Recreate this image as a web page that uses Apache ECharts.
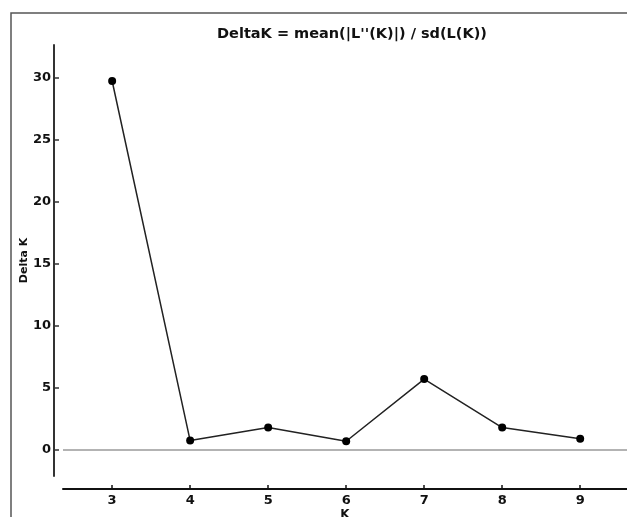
<!DOCTYPE html>
<html>
<head>
<meta charset="utf-8">
<script src="https://cdn.jsdelivr.net/npm/echarts@6/dist/echarts.min.js"></script>
<style>html,body{margin:0;padding:0;background:#fff;}#c{width:627px;height:517px;}</style>
</head>
<body>
<div id="c"></div>
<script>
const kValues = [3, 4, 5, 6, 7, 8, 9];
const deltaK = [29.7, 0.75, 1.8, 0.7, 5.7, 1.8, 0.9];
const yTicks = [0, 5, 10, 15, 20, 25, 30];
const xTicks = [3, 4, 5, 6, 7, 8, 9];
const titleText = "DeltaK = mean(|L''(K)|) / sd(L(K))";

const chart = echarts.init(document.getElementById('c'), null, {renderer: 'canvas'});
const font = 'DejaVu Sans';
chart.setOption({
  backgroundColor: '#fff',
  animation: false,
  title: {
    text: titleText, left: 347, top: 22, textAlign: 'center',
    textStyle: {fontFamily: font, fontSize: 14.5, fontWeight: 'bold', color: '#111'}
  },
  graphic: [{
    type: 'rect', shape: {x: 11, y: 13, width: 700, height: 600},
    style: {fill: 'none', stroke: '#555', lineWidth: 1.5}, silent: true
  }],
  grid: {left: 63, right: 0, top: 45, bottom: 41, outerBoundsMode: 'none', containLabel: false},
  xAxis: {
    type: 'value', min: 2.37, max: 9.6, offset: 13,
    name: 'K', nameLocation: 'middle', nameGap: 20, nameMoveOverlap: false,
    nameTextStyle: {fontFamily: font, fontSize: 12, fontWeight: 'bold', color: '#111'},
    splitLine: {show: false},
    axisLine: {show: true, onZero: false, lineStyle: {color: '#111', width: 2}},
    axisTick: {show: true, inside: true, length: 4, customValues: xTicks, lineStyle: {color: '#111', width: 1.5}},
    axisLabel: {customValues: xTicks, margin: 5, fontFamily: font, fontSize: 13, fontWeight: 'bold', color: '#111'}
  },
  yAxis: {
    type: 'value', min: -2.1, max: 32.6, offset: 9,
    name: 'Delta K', nameLocation: 'middle', nameGap: 24, nameRotate: 90, nameMoveOverlap: false,
    nameTextStyle: {fontFamily: font, fontSize: 11, fontWeight: 'bold', color: '#111'},
    splitLine: {show: false},
    axisLine: {show: true, onZero: false, lineStyle: {color: '#333', width: 2}},
    axisTick: {show: true, inside: true, length: 5, customValues: yTicks, lineStyle: {color: '#333', width: 1.5}},
    axisLabel: {customValues: yTicks, margin: 3, fontFamily: font, fontSize: 13, fontWeight: 'bold', color: '#111'}
  },
  series: [{
    type: 'line',
    data: kValues.map((k, i) => [k, deltaK[i]]),
    symbol: 'circle', symbolSize: 8,
    itemStyle: {color: '#000'},
    lineStyle: {color: '#222', width: 1.5},
    markLine: {
      silent: true, symbol: 'none', label: {show: false},
      lineStyle: {color: '#9a9a9a', width: 1.5, type: 'solid'},
      data: [{yAxis: 0}]
    }
  }]
});
</script>
</body>
</html>
